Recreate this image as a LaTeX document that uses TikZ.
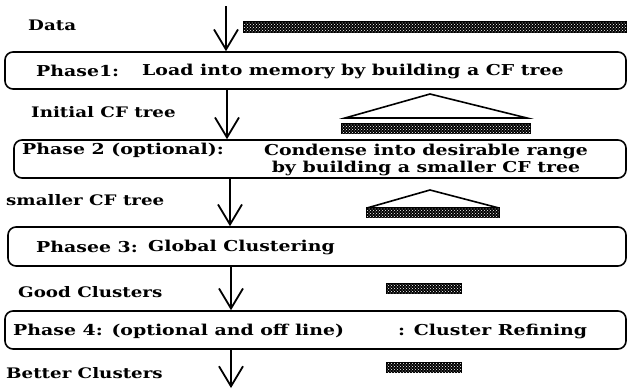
\documentclass[tikz,border=0pt]{standalone}
\usepackage{fontspec}
\newfontfamily\phasefont{DejaVu Serif}[FakeStretch=1.26]
\usetikzlibrary{arrows.meta,fit,patterns}

\tikzset{
  phase/.style={draw, line width=1.6pt, rounded corners=8pt, inner sep=0pt},
  flow/.style={line width=1.8pt, -{Straight Barb[length=20pt,width=24pt]}},
  txt/.style={anchor=west, inner sep=0pt, font=\phasefont\bfseries\fontsize{15}{17}\selectfont},
  lbl/.style={txt, font=\phasefont\bfseries\fontsize{14.5}{16}\selectfont},
  databar/.style={draw, line width=1.4pt, fill=black, postaction={pattern=crosshatch dots, pattern color=white}},
  tree/.style={line width=1.6pt, line join=miter}
}

\begin{document}
\begin{tikzpicture}[x=1pt,y=-1pt]
				\useasboundingbox (0,0) rectangle (630,389);
				
				% the four phases
				\node[phase, fit={(5,52) (626,89)}] (phase1) {};
				\node[phase, fit={(14,140) (626,178)}] (phase2) {};
				\node[phase, fit={(8,227) (626,266)}] (phase3) {};
				\node[phase, fit={(5,311) (626,349)}] (phase4) {};
				
				\node[txt] (p1a) at (36,71) {Phase1:};
				\node[txt] (p1b) at (142,71) {Load into memory by building a CF tree};
				\node[txt] (p2a) at (22,150) {Phase 2 (optional):};
				\node[txt, anchor=center] (p2b) at (426,151) {Condense into desirable range};
				\node[txt, anchor=center] (p2c) at (426,168) {by building a smaller CF tree};
				\node[txt] (p3a) at (36,247) {Phasee 3:};
				\node[txt] (p3b) at (148,247) {Global Clustering};
				\node[txt] (p4a) at (13,331) {Phase 4: (optional and off line)};
				\node[txt] (p4b) at (398,331) {: Cluster Refining};
				
				% what flows between them
				\node[lbl] (data) at (28,25) {Data};
				\node[lbl] (init) at (31,112) {Initial CF tree};
				\node[lbl] (small) at (6,200) {smaller CF tree};
				\node[lbl] (good) at (18,292) {Good Clusters};
				\node[lbl] (better) at (6,373) {Better Clusters};
				
				\coordinate (src) at (226,6);
				\coordinate (c2) at (227,0);
				\coordinate (c3) at (230,0);
				\coordinate (c4) at (231,0);
				\coordinate (sink) at (231,388);
				
				\draw[flow] (src) -- (src |- phase1.north);
				\draw[flow] (phase1.south -| c2) -- (phase2.north -| c2);
				\draw[flow] (phase2.south -| c3) -- (phase3.north -| c3);
				\draw[flow] (phase3.south -| c4) -- (phase4.north -| c4);
				\draw[flow] (phase4.south -| sink) -- (sink);
				
				% data, trees and clusters
				\draw[databar] (244,22) rectangle (626,32);
				
				\draw[tree] (345,118) -- (430,94) -- (527,118) -- cycle;
				\draw[databar] (342,124) rectangle (530,133);
				
				\draw[tree] (367,208) -- (430,190) -- (499,208);
				\draw[databar] (367,208) rectangle (499,217);
				
				\draw[databar] (387,284) rectangle (461,293);
				\draw[databar] (387,363) rectangle (461,372);
			\end{tikzpicture}
\end{document}
